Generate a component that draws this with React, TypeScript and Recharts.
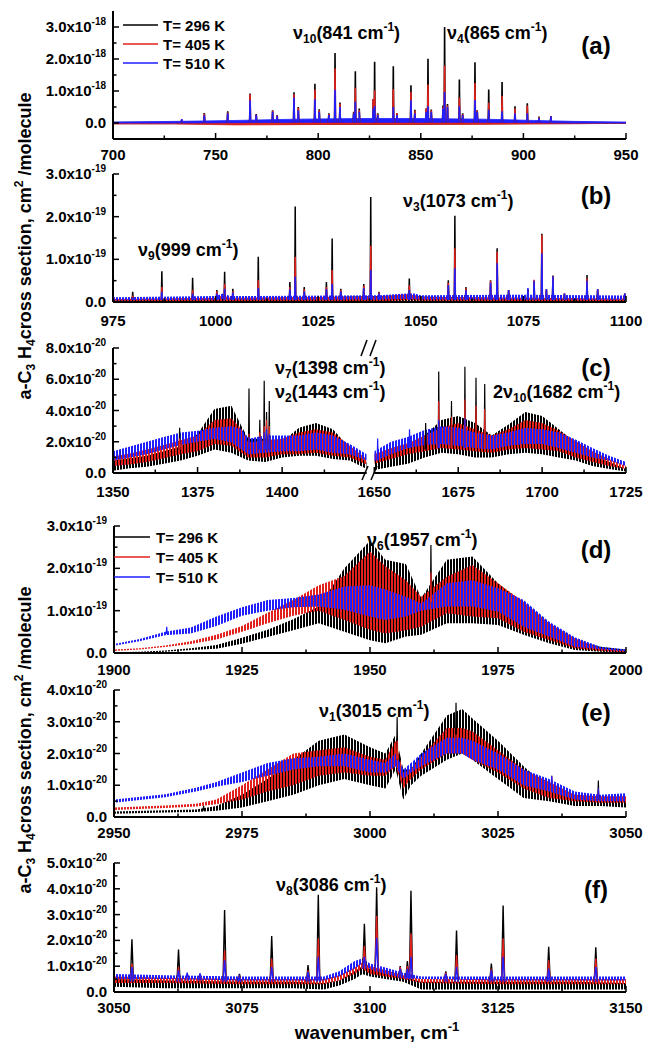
import React from "react";
import { Area, ComposedChart, Line, XAxis, YAxis } from "recharts";

const FONT = "'Liberation Sans', Arial, Helvetica, sans-serif";
const INK = "#000000";
const RED = "#e2211c";
const BLUE = "#1f1fff";

const temperatures = ["T= 296 K", "T= 405 K", "T= 510 K"];
const seriesColors = [INK, RED, BLUE];
const stripeFills = ["url(#stripe-k)", "url(#stripe-r)", "url(#stripe-b)"];

// bands: [x, 296K lo, 296K hi, 405K lo, 405K hi, 510K lo, 510K hi]
// peaks: [x, foot, 296K, 405K, 510K]

// (a) units of 1e-18
const aBands = [
  [700, -0.02, 0.02, -0.03, 0.01, 0.0, 0.03],
  [730, -0.02, 0.03, -0.03, 0.02, 0.0, 0.05],
  [760, -0.03, 0.04, -0.06, 0.03, 0.01, 0.08],
  [790, -0.04, 0.05, -0.05, 0.04, 0.02, 0.12],
  [820, -0.04, 0.06, -0.04, 0.05, 0.02, 0.14],
  [850, -0.04, 0.06, -0.04, 0.05, 0.02, 0.14],
  [880, -0.03, 0.05, -0.04, 0.04, 0.02, 0.12],
  [905, -0.02, 0.04, -0.03, 0.03, 0.01, 0.08],
  [925, -0.02, 0.03, -0.02, 0.02, 0.0, 0.05],
  [950, -0.01, 0.01, -0.01, 0.01, 0.0, 0.03],
];
const aPeaks = [
  [733.5, 0.02, 0.1, 0.1, 0.12],
  [744.5, 0.02, 0.31, 0.29, 0.24],
  [755.9, 0.02, 0.37, 0.33, 0.3],
  [766.8, 0.02, 0.92, 0.9, 0.71],
  [769.8, 0.02, 0.28, 0.26, 0.25],
  [777.8, 0.02, 0.4, 0.38, 0.35],
  [780, 0.02, 0.25, 0.24, 0.22],
  [788.2, 0.02, 0.96, 0.9, 0.8],
  [790.3, 0.02, 0.5, 0.47, 0.4],
  [798.4, 0.02, 1.23, 1.05, 0.74],
  [800.5, 0.02, 0.43, 0.4, 0.35],
  [805.2, 0.02, 0.3, 0.28, 0.25],
  [808.2, 0.02, 2.19, 1.7, 1.04],
  [810.6, 0.02, 0.64, 0.6, 0.5],
  [817.3, 0.02, 0.35, 0.33, 0.3],
  [818.1, 0.02, 1.62, 1.1, 0.66],
  [820, 0.02, 0.45, 0.4, 0.35],
  [826.8, 0.02, 0.75, 0.75, 0.45],
  [827.5, 0.02, 1.91, 1.02, 0.53],
  [829, 0.02, 0.3, 0.28, 0.25],
  [836.6, 0.02, 1.77, 1.06, 0.5],
  [838.4, 0.02, 0.3, 0.3, 0.25],
  [845.2, 0.02, 1.18, 0.97, 0.71],
  [847.1, 0.02, 0.41, 0.38, 0.3],
  [852.6, 0.02, 0.45, 0.45, 0.35],
  [853.5, 0.02, 2.01, 1.2, 0.52],
  [855.1, 0.02, 0.42, 0.4, 0.35],
  [860.8, 0.02, 0.55, 0.5, 0.45],
  [861.6, 0.02, 3.0, 1.8, 0.97],
  [863, 0.02, 0.59, 0.55, 0.5],
  [868.8, 0.02, 1.36, 0.8, 0.52],
  [870.4, 0.02, 0.3, 0.28, 0.25],
  [876.4, 0.02, 1.9, 1.25, 0.72],
  [877.5, 0.02, 0.4, 0.38, 0.35],
  [883.1, 0.02, 1.05, 0.63, 0.41],
  [889.6, 0.02, 1.28, 0.85, 0.37],
  [895.9, 0.02, 0.52, 0.45, 0.3],
  [901.9, 0.02, 0.62, 0.55, 0.3],
  [907.6, 0.02, 0.2, 0.18, 0.15],
  [913.4, 0.02, 0.22, 0.2, 0.2],
];

// (b) units of 1e-19
const bBands = [
  [975, 0.0, 0.06, 0.02, 0.07, 0.04, 0.11],
  [1000, 0.0, 0.08, 0.02, 0.1, 0.05, 0.14],
  [1001.8, 0.0, 0.12, 0.03, 0.16, 0.07, 0.2],
  [1003.5, 0.0, 0.08, 0.02, 0.1, 0.05, 0.14],
  [1040, 0.0, 0.14, 0.02, 0.13, 0.06, 0.16],
  [1046.5, 0.01, 0.16, 0.04, 0.18, 0.07, 0.2],
  [1048.5, 0.01, 0.15, 0.04, 0.16, 0.07, 0.2],
  [1050, 0.0, 0.13, 0.03, 0.12, 0.06, 0.16],
  [1075, 0.0, 0.08, 0.02, 0.1, 0.06, 0.17],
  [1100, 0.0, 0.06, 0.02, 0.08, 0.05, 0.15],
];
const bPeaks = [
  [979.8, 0.05, 0.24, 0.15, 0.1],
  [986.9, 0.05, 0.72, 0.35, 0.24],
  [994.4, 0.05, 0.57, 0.28, 0.2],
  [1000.3, 0.05, 0.28, 0.25, 0.2],
  [1002.2, 0.05, 0.71, 0.43, 0.31],
  [1004.2, 0.05, 0.31, 0.25, 0.22],
  [1010.4, 0.05, 1.06, 0.51, 0.33],
  [1018.1, 0.05, 0.47, 0.35, 0.3],
  [1019.4, 0.05, 2.24, 1.06, 0.59],
  [1021.6, 0.05, 0.35, 0.3, 0.25],
  [1027, 0.05, 0.47, 0.35, 0.3],
  [1028.4, 0.05, 1.49, 0.75, 0.43],
  [1030.5, 0.05, 0.31, 0.28, 0.25],
  [1036.1, 0.05, 0.42, 0.38, 0.33],
  [1037.8, 0.05, 2.46, 1.32, 0.75],
  [1039.8, 0.05, 0.24, 0.22, 0.2],
  [1047.2, 0.05, 0.55, 0.39, 0.28],
  [1056.7, 0.05, 0.51, 0.45, 0.4],
  [1058.3, 0.05, 2.02, 1.26, 0.79],
  [1061, 0.05, 0.35, 0.32, 0.28],
  [1067, 0.05, 0.51, 0.5, 0.45],
  [1068.6, 0.05, 1.26, 1.18, 0.91],
  [1071.4, 0.05, 0.28, 0.28, 0.28],
  [1076.1, 0.05, 0.3, 0.3, 0.33],
  [1077.6, 0.05, 0.5, 0.52, 0.5],
  [1079.5, 0.05, 1.6, 1.57, 1.14],
  [1080.6, 0.05, 0.3, 0.3, 0.3],
  [1082.2, 0.05, 0.62, 0.6, 0.6],
  [1085, 0.05, 0.2, 0.2, 0.2],
  [1090.5, 0.05, 0.63, 0.55, 0.5],
  [1093.1, 0.05, 0.3, 0.3, 0.3],
  [1099.7, 0.05, 0.2, 0.2, 0.2],
];

// (c) units of 1e-20, two pieces of a broken axis
const cBandsLeft = [
  [1350, 0.15, 0.8, 0.45, 1.05, 0.8, 1.4],
  [1355, 0.3, 0.95, 0.55, 1.25, 1.0, 1.7],
  [1360, 0.4, 1.1, 0.7, 1.5, 1.2, 2.0],
  [1365, 0.6, 1.4, 0.95, 1.8, 1.5, 2.3],
  [1370, 0.8, 1.7, 1.2, 2.1, 1.8, 2.6],
  [1375, 1.1, 2.5, 1.4, 2.4, 2.0, 2.7],
  [1380, 1.5, 4.1, 1.85, 3.4, 2.2, 2.9],
  [1385, 1.3, 4.3, 1.75, 3.5, 1.95, 3.0],
  [1388, 1.0, 3.0, 1.3, 2.8, 1.5, 2.8],
  [1390, 0.8, 2.2, 1.0, 1.95, 1.2, 2.2],
  [1395, 0.7, 2.2, 1.0, 2.1, 1.3, 2.4],
  [1400, 1.0, 2.0, 1.2, 2.2, 1.4, 2.4],
  [1405, 1.1, 2.9, 1.2, 2.6, 1.4, 2.4],
  [1410, 1.1, 3.2, 1.3, 2.8, 1.5, 2.6],
  [1415, 0.9, 2.8, 1.1, 2.6, 1.3, 2.4],
  [1420, 0.8, 1.6, 1.0, 1.75, 1.2, 1.85],
  [1425, 0.25, 0.7, 0.55, 0.9, 0.8, 1.2],
];
const cPeaksLeft = [
  [1352, 0.9, 1.45, null, 1.45],
  [1369.7, 1.5, 2.9, 2.2, null],
  [1390.2, 1.5, 5.4, 2.5, 2.3],
  [1393.4, 1.5, 3.4, 2.6, 2.3],
  [1394.7, 1.5, 5.9, 3.0, 2.6],
  [1395.4, 1.5, 3.9, 3.4, 2.8],
  [1396.2, 1.5, 4.6, 3.0, 2.5],
];
const cBandsRight = [
  [1650, 0.2, 1.0, 0.6, 1.2, 0.75, 1.4],
  [1655, 0.4, 1.3, 0.9, 1.6, 1.2, 2.0],
  [1660, 0.6, 1.6, 1.2, 1.9, 1.6, 2.3],
  [1665, 1.0, 2.4, 1.4, 2.4, 1.8, 2.75],
  [1670, 1.3, 3.4, 1.6, 2.9, 1.85, 3.0],
  [1675, 1.2, 3.65, 1.5, 3.2, 1.75, 2.9],
  [1680, 1.0, 3.2, 1.4, 2.8, 1.6, 2.6],
  [1685, 1.0, 2.4, 1.3, 2.4, 1.5, 2.4],
  [1690, 1.2, 3.1, 1.5, 2.8, 1.75, 2.6],
  [1695, 1.3, 3.9, 1.6, 3.4, 1.85, 2.9],
  [1700, 1.2, 3.65, 1.5, 3.2, 1.85, 2.8],
  [1705, 1.0, 2.8, 1.4, 2.7, 1.6, 2.6],
  [1710, 0.8, 1.95, 1.0, 2.05, 1.3, 2.15],
  [1715, 0.45, 1.2, 0.7, 1.4, 1.0, 1.6],
  [1720, 0.25, 0.7, 0.45, 0.9, 0.8, 1.1],
  [1725, 0.1, 0.25, 0.25, 0.45, 0.45, 0.7],
];
const cPeaksRight = [
  [1651, 0.8, null, null, 2.2],
  [1660.5, 1.6, null, null, 2.8],
  [1665.3, 1.5, 3.2, null, null],
  [1669.2, 1.6, 6.5, 4.6, 3.4],
  [1673, 1.6, 4.6, 3.6, null],
  [1677, 1.6, 6.8, 4.7, 3.5],
  [1680.3, 1.6, 6.1, 4.3, null],
  [1682.9, 1.6, 5.7, 4.1, null],
];

// (d) units of 1e-19
const dBands = [
  [1900, 0.0, 0.02, 0.05, 0.08, 0.17, 0.21],
  [1905, 0.01, 0.03, 0.08, 0.11, 0.28, 0.33],
  [1910, 0.03, 0.06, 0.14, 0.18, 0.42, 0.5],
  [1915, 0.07, 0.11, 0.21, 0.28, 0.46, 0.6],
  [1920, 0.1, 0.19, 0.32, 0.43, 0.64, 0.86],
  [1925, 0.22, 0.36, 0.5, 0.64, 0.88, 1.08],
  [1930, 0.38, 0.55, 0.7, 0.95, 1.0, 1.25],
  [1935, 0.54, 0.8, 0.88, 1.25, 1.08, 1.3],
  [1940, 0.7, 1.1, 1.0, 1.6, 1.1, 1.38],
  [1945, 0.5, 2.0, 0.78, 1.82, 1.02, 1.57],
  [1950, 0.3, 2.65, 0.55, 2.4, 0.86, 1.6],
  [1953, 0.23, 2.2, 0.46, 2.05, 0.78, 1.5],
  [1957, 0.39, 2.1, 0.54, 1.72, 0.86, 1.33],
  [1960, 0.43, 1.3, 0.62, 1.33, 1.0, 1.17],
  [1965, 0.7, 2.2, 0.94, 1.8, 1.1, 1.65],
  [1970, 0.7, 2.28, 0.86, 2.08, 1.1, 1.72],
  [1975, 0.66, 1.65, 0.82, 1.65, 0.98, 1.53],
  [1980, 0.43, 1.17, 0.5, 1.21, 0.62, 1.25],
  [1985, 0.23, 0.66, 0.31, 0.7, 0.39, 0.74],
  [1990, 0.07, 0.31, 0.11, 0.35, 0.15, 0.37],
  [1995, 0.03, 0.15, 0.05, 0.11, 0.09, 0.15],
  [2000, 0.0, 0.08, 0.02, 0.06, 0.04, 0.08],
];
const dPeaks = [
  [1910.3, 0.45, null, null, 0.62],
  [1961.9, 1.2, 2.55, 1.9, null],
];

// (e) units of 1e-20
const eBands = [
  [2950, 0.1, 0.17, 0.22, 0.3, 0.45, 0.55],
  [2960, 0.14, 0.21, 0.28, 0.36, 0.62, 0.72],
  [2966, 0.16, 0.24, 0.33, 0.42, 0.8, 0.92],
  [2970, 0.2, 0.35, 0.4, 0.55, 0.95, 1.1],
  [2975, 0.3, 0.7, 0.55, 1.0, 1.1, 1.4],
  [2980, 0.5, 1.2, 0.8, 1.5, 1.3, 1.7],
  [2985, 0.7, 1.8, 1.0, 2.0, 1.5, 1.85],
  [2990, 1.0, 2.4, 1.3, 2.1, 1.6, 1.9],
  [2995, 1.2, 2.6, 1.4, 2.2, 1.6, 2.0],
  [3000, 1.0, 2.2, 1.3, 1.9, 1.4, 1.8],
  [3003, 0.9, 2.0, 1.3, 1.8, 1.4, 1.7],
  [3005, 1.5, 2.6, 1.6, 2.4, 1.6, 2.0],
  [3006.5, 0.55, 1.5, 0.9, 1.4, 1.2, 1.5],
  [3008, 1.0, 1.5, 1.2, 1.5, 1.4, 1.7],
  [3010, 1.3, 2.0, 1.5, 1.9, 1.6, 2.0],
  [3015, 1.8, 3.2, 2.0, 2.8, 2.0, 2.5],
  [3018, 2.0, 3.4, 2.0, 2.8, 2.0, 2.5],
  [3020, 1.8, 3.1, 1.8, 2.7, 1.8, 2.4],
  [3025, 1.2, 2.4, 1.4, 2.1, 1.5, 2.0],
  [3030, 0.6, 1.6, 0.9, 1.5, 1.0, 1.5],
  [3035, 0.5, 0.9, 0.6, 1.1, 0.8, 1.2],
  [3040, 0.35, 0.7, 0.5, 0.7, 0.55, 0.8],
  [3045, 0.35, 0.6, 0.45, 0.65, 0.5, 0.7],
  [3050, 0.3, 0.6, 0.45, 0.65, 0.5, 0.75],
];
const ePeaks = [
  [2967.5, 0.2, 0.35, null, null],
  [3005.3, 1.8, 3.15, 2.4, null],
  [3016.8, 2.2, 3.6, 2.6, 2.5],
  [3035.5, 1.0, null, 1.3, 1.3],
  [3044.6, 0.55, 1.15, 0.9, 0.9],
];

// (f) units of 1e-20
const fBands = [
  [3050, 0.2, 0.5, 0.35, 0.6, 0.5, 0.7],
  [3060, 0.15, 0.45, 0.35, 0.55, 0.5, 0.65],
  [3075, 0.15, 0.4, 0.3, 0.5, 0.45, 0.6],
  [3085, 0.15, 0.4, 0.3, 0.5, 0.45, 0.6],
  [3091, 0.1, 0.35, 0.3, 0.5, 0.45, 0.6],
  [3094, 0.25, 0.45, 0.45, 0.65, 0.6, 0.8],
  [3097, 0.5, 0.8, 0.7, 0.95, 0.9, 1.2],
  [3098.5, 0.7, 1.0, 0.9, 1.15, 1.1, 1.3],
  [3100, 0.6, 0.9, 0.7, 1.0, 0.9, 1.1],
  [3103, 0.5, 0.8, 0.6, 0.85, 0.7, 0.95],
  [3106.5, 0.4, 0.6, 0.5, 0.65, 0.55, 0.75],
  [3110, 0.1, 0.4, 0.35, 0.5, 0.5, 0.6],
  [3125, 0.1, 0.4, 0.3, 0.5, 0.45, 0.6],
  [3140, 0.1, 0.4, 0.3, 0.5, 0.45, 0.6],
  [3150, 0.1, 0.35, 0.3, 0.5, 0.45, 0.6],
];
const fPeaks = [
  [3053.5, 0.4, 2.04, 1.1, 0.97],
  [3062.6, 0.4, 1.65, 0.97, 0.84],
  [3064.3, 0.45, null, 0.7, 0.75],
  [3066.8, 0.45, 0.7, 0.7, 0.72],
  [3071.6, 0.4, 3.18, 1.62, 1.23],
  [3074.5, 0.4, 0.7, 0.65, 0.6],
  [3080.8, 0.4, 2.17, 1.3, 0.97],
  [3087.9, 0.4, 1.04, 0.84, 0.78],
  [3089.9, 0.4, 3.77, 2.08, 1.36],
  [3098.9, 0.9, 2.64, 1.78, 1.36],
  [3101.3, 0.8, 4.06, 2.95, 2.1],
  [3105.9, 0.55, 1.0, 0.97, 0.9],
  [3107.3, 0.5, 1.2, 1.0, 0.9],
  [3108, 0.5, 3.92, 2.27, 1.36],
  [3114.8, 0.4, 0.8, 0.75, 0.7],
  [3116.9, 0.4, 2.38, 1.43, 0.97],
  [3123.7, 0.4, 1.1, 0.9, 0.85],
  [3126, 0.4, 3.35, 2.08, 1.36],
  [3134.9, 0.4, 1.75, 1.23, 0.91],
  [3144.1, 0.4, 1.73, 1.3, 0.97],
];

type Row = {
  x: number;
  bk?: number[];
  rd?: number[];
  bl?: number[];
  sk?: number;
  sr?: number;
  sb?: number;
};

function buildRows(bands: number[][], peaks: (number | null)[][], half: number): Row[] {
  const rows: Row[] = bands.map(([x, a, b, c, d, e, f]) => ({
    x,
    bk: [a, b],
    rd: [c, d],
    bl: [e, f],
  }));
  peaks.forEach(([px, foot, k, r, b]) => {
    const x = px as number;
    const f = foot as number;
    const feet = (h: number | null) => (h == null ? undefined : f);
    rows.push({ x: x - half, sk: feet(k), sr: feet(r), sb: feet(b) });
    rows.push({ x, sk: k ?? undefined, sr: r ?? undefined, sb: b ?? undefined });
    rows.push({ x: x + half, sk: feet(k), sr: feet(r), sb: feet(b) });
    rows.push({ x: x + half * 1.05 });
  });
  return rows.sort((p, q) => p.x - q.x);
}

const MAJOR = 6;
const MINOR = 3.5;
const tickStroke = { stroke: INK, strokeWidth: 1.5 };
const frame = { stroke: INK, strokeWidth: 2 };

const bottomTick = (majors: Set<number>, gap: number) => (p: any) => {
  const v = p.payload.value;
  const major = majors.has(v);
  return (
    <g>
      <line x1={p.x} x2={p.x} y1={p.y} y2={p.y - (major ? MAJOR : MINOR)} {...tickStroke} />
      {major && (
        <text x={p.x} y={p.y + gap} textAnchor="middle" fontFamily={FONT} fontWeight="bold" fontSize={15} fill={INK}>
          {v}
        </text>
      )}
    </g>
  );
};

const topTick = (majors: Set<number>) => (p: any) => {
  const major = majors.has(p.payload.value);
  return <line x1={p.x} x2={p.x} y1={p.y} y2={p.y + (major ? MAJOR : MINOR)} {...tickStroke} />;
};

const leftTick = (majors: Set<number>, exp: string) => (p: any) => {
  const v = p.payload.value;
  const major = majors.has(v);
  return (
    <g>
      <line x1={p.x} x2={p.x + (major ? MAJOR : MINOR)} y1={p.y} y2={p.y} {...tickStroke} />
      {major && (
        <text x={p.x - 7} y={p.y + 5} textAnchor="end" fontFamily={FONT} fontWeight="bold" fontSize={15} fill={INK}>
          {v === 0 ? (
            "0.0"
          ) : (
            <>
              {v.toFixed(1)}x10
              <tspan dy={-7} fontSize={10}>
                {exp}
              </tspan>
            </>
          )}
        </text>
      )}
    </g>
  );
};

const rightTick = (majors: Set<number>) => (p: any) => {
  const major = majors.has(p.payload.value);
  return <line x1={p.x} x2={p.x - (major ? MAJOR : MINOR)} y1={p.y} y2={p.y} {...tickStroke} />;
};

type PanelProps = {
  rows: Row[];
  top: number;
  bottom: number;
  left: number;
  right: number;
  xDomain: [number, number];
  xMajor: number[];
  xMinor: number[];
  yDomain: [number, number];
  yMajor: number[];
  yMinor: number[];
  exp: string;
  gap: number;
  fills?: string[];
  spikeWidth?: number;
  frameLeft?: boolean;
  frameRight?: boolean;
};

function Panel({
  rows, top, bottom, left, right, xDomain, xMajor, xMinor, yDomain, yMajor, yMinor, exp, gap,
  fills = stripeFills, spikeWidth = 1.2, frameLeft = true, frameRight = true,
}: PanelProps) {
  const xm = new Set(xMajor);
  const ym = new Set(yMajor);
  const xTicks = [...xMajor, ...xMinor].sort((a, b) => a - b);
  const yTicks = [...yMajor, ...yMinor].sort((a, b) => a - b);
  const keys = [
    ["bk", "sk"],
    ["rd", "sr"],
    ["bl", "sb"],
  ];
  const striped = fills !== seriesColors;
  return (
    <div style={{ position: "absolute", left: 0, top: top - 10 }}>
      <ComposedChart
        width={645}
        height={bottom - top + 42}
        data={rows}
        margin={{ top: 10, right: 645 - right, bottom: 0, left: 0 }}
      >
        <XAxis
          dataKey="x" type="number" domain={xDomain} allowDataOverflow ticks={xTicks} interval={0}
          height={32} tickSize={0} tickMargin={0} tickLine={false} axisLine={frame} tick={bottomTick(xm, gap)}
        />
        <XAxis
          xAxisId="top" orientation="top" dataKey="x" type="number" domain={xDomain} allowDataOverflow
          ticks={xTicks} interval={0} height={0} tickSize={0} tickMargin={0} tickLine={false} axisLine={frame}
          tick={topTick(xm)}
        />
        <YAxis
          type="number" domain={yDomain} allowDataOverflow ticks={yTicks} interval={0} width={left}
          tickSize={0} tickMargin={0} tickLine={false} axisLine={frameLeft ? frame : false}
          tick={frameLeft ? leftTick(ym, exp) : false}
        />
        {frameRight && (
          <YAxis
            yAxisId="right" orientation="right" type="number" domain={yDomain} allowDataOverflow ticks={yTicks}
            interval={0} width={0} tickSize={0} tickMargin={0} tickLine={false} axisLine={frame}
            tick={rightTick(ym)}
          />
        )}
        {keys.flatMap(([band, spike], i) => [
          <Area
            key={band} dataKey={band} type="linear" fill={fills[i]} fillOpacity={1}
            stroke={striped ? "none" : seriesColors[i]} strokeWidth={0.8} connectNulls dot={false}
            activeDot={false} isAnimationActive={false}
          />,
          <Line
            key={spike} dataKey={spike} type="linear" stroke={seriesColors[i]} strokeWidth={spikeWidth}
            dot={false} activeDot={false} isAnimationActive={false}
          />,
        ])}
      </ComposedChart>
    </div>
  );
}

function Anno({ x, y, pre, sub, mid }: { x: number; y: number; pre: string; sub: string; mid: string }) {
  return (
    <text x={x} y={y} fontFamily={FONT} fontWeight="bold" fontSize={18} fill={INK}>
      {pre}
      <tspan dy={4} fontSize={12}>{sub}</tspan>
      <tspan dy={-4}>{mid}</tspan>
      <tspan dy={-8} fontSize={12}>-1</tspan>
      <tspan dy={8}>)</tspan>
    </text>
  );
}

function YTitle({ cy }: { cy: number }) {
  return (
    <text
      transform={`translate(31,${cy}) rotate(-90)`} textAnchor="middle"
      fontFamily={FONT} fontWeight="bold" fontSize={18} fill={INK}
    >
      a-C<tspan dy={4} fontSize={12}>3</tspan>
      <tspan dy={-4}> H</tspan>
      <tspan dy={4} fontSize={12}>4</tspan>
      <tspan dy={-4}>cross section, cm</tspan>
      <tspan dy={-8} fontSize={12}>2</tspan>
      <tspan dy={8}> /molecule</tspan>
    </text>
  );
}

function Legend({ x1, x2, tx, rows }: { x1: number; x2: number; tx: number; rows: number[] }) {
  return (
    <g>
      {temperatures.map((t, i) => (
        <g key={t}>
          <line x1={x1} x2={x2} y1={rows[i]} y2={rows[i]} stroke={seriesColors[i]} strokeWidth={1.5} />
          <text x={tx} y={rows[i] + 5.5} fontFamily={FONT} fontWeight="bold" fontSize={15} fill={INK}>
            {t}
          </text>
        </g>
      ))}
    </g>
  );
}

const Letter = ({ y, t }: { y: number; t: string }) => (
  <text x={596} y={y + 8} textAnchor="middle" fontFamily={FONT} fontWeight="bold" fontSize={24} fill={INK}>
    {t}
  </text>
);

export default function App() {
  return (
    <div style={{ position: "absolute", left: 0, top: 0, width: 645, height: 1042, background: "#fff" }}>
      <Panel
        rows={buildRows(aBands, aPeaks, 0.2)} top={11} bottom={139} left={113} right={626}
        xDomain={[700, 950]} xMajor={[700, 750, 800, 850, 900, 950]} xMinor={[725, 775, 825, 875, 925]}
        yDomain={[-0.5, 3.5]} yMajor={[0, 1, 2, 3]} yMinor={[-0.5, 0.5, 1.5, 2.5]} exp="-18" gap={21}
        fills={seriesColors} spikeWidth={1.6}
      />
      <Panel
        rows={buildRows(bBands, bPeaks, 0.12)} top={174} bottom={302} left={113} right={626}
        xDomain={[975, 1100]} xMajor={[975, 1000, 1025, 1050, 1075, 1100]}
        xMinor={[987.5, 1012.5, 1037.5, 1062.5, 1087.5]}
        yDomain={[0, 3]} yMajor={[0, 1, 2, 3]} yMinor={[0.5, 1.5, 2.5]} exp="-19" gap={24} spikeWidth={1.5}
      />
      <Panel
        rows={buildRows(cBandsLeft, cPeaksLeft, 0.15)} top={348} bottom={473} left={113} right={366.7}
        xDomain={[1350, 1425]} xMajor={[1350, 1375, 1400]} xMinor={[1362.5, 1387.5, 1412.5]}
        yDomain={[0, 8]} yMajor={[0, 2, 4, 6, 8]} yMinor={[1, 3, 5, 7]} exp="-20" gap={24}
        frameRight={false}
      />
      <Panel
        rows={buildRows(cBandsRight, cPeaksRight, 0.15)} top={348} bottom={473} left={374.3} right={626}
        xDomain={[1650, 1725]} xMajor={[1650, 1675, 1700, 1725]} xMinor={[1662.5, 1687.5, 1712.5]}
        yDomain={[0, 8]} yMajor={[0, 2, 4, 6, 8]} yMinor={[1, 3, 5, 7]} exp="-20" gap={24}
        frameLeft={false}
      />
      <Panel
        rows={buildRows(dBands, dPeaks, 0.1)} top={526} bottom={653} left={114} right={626}
        xDomain={[1900, 2000]} xMajor={[1900, 1925, 1950, 1975, 2000]} xMinor={[1912.5, 1937.5, 1962.5, 1987.5]}
        yDomain={[0, 3]} yMajor={[0, 1, 2, 3]} yMinor={[0.5, 1.5, 2.5]} exp="-19" gap={22}
      />
      <Panel
        rows={buildRows(eBands, ePeaks, 0.1)} top={690} bottom={817} left={114} right={626}
        xDomain={[2950, 3050]} xMajor={[2950, 2975, 3000, 3025, 3050]} xMinor={[2962.5, 2987.5, 3012.5, 3037.5]}
        yDomain={[0, 4]} yMajor={[0, 1, 2, 3, 4]} yMinor={[0.5, 1.5, 2.5, 3.5]} exp="-20" gap={21}
      />
      <Panel
        rows={buildRows(fBands, fPeaks, 0.3)} top={863} bottom={992} left={114} right={626}
        xDomain={[3050, 3150]} xMajor={[3050, 3075, 3100, 3125, 3150]} xMinor={[3062.5, 3087.5, 3112.5, 3137.5]}
        yDomain={[0, 5]} yMajor={[0, 1, 2, 3, 4, 5]} yMinor={[0.5, 1.5, 2.5, 3.5, 4.5]} exp="-20" gap={21}
        spikeWidth={1.4}
      />
      <svg width={645} height={1042} style={{ position: "absolute", left: 0, top: 0, pointerEvents: "none" }}>
        <defs>
          <pattern id="stripe-k" width={3} height={10} patternUnits="userSpaceOnUse">
            <rect x={0} y={0} width={2} height={10} fill={INK} />
          </pattern>
          <pattern id="stripe-r" width={3} height={10} patternUnits="userSpaceOnUse">
            <rect x={1} y={0} width={2} height={10} fill={RED} />
          </pattern>
          <pattern id="stripe-b" width={3} height={10} patternUnits="userSpaceOnUse">
            <rect x={2} y={0} width={1} height={10} fill={BLUE} />
            <rect x={0} y={0} width={1} height={10} fill={BLUE} />
          </pattern>
        </defs>
        <YTitle cy={246} />
        <YTitle cy={740} />
        <text x={377} y={1039} textAnchor="middle" fontFamily={FONT} fontWeight="bold" fontSize={19} fill={INK}>
          wavenumber, cm<tspan dy={-8} fontSize={13}>-1</tspan>
        </text>
        <Legend x1={123} x2={158} tx={163} rows={[25, 44, 63]} />
        <Legend x1={114} x2={150} tx={156} rows={[537, 557, 577]} />
        <Letter y={46} t="(a)" />
        <Letter y={196} t="(b)" />
        <Letter y={368} t="(c)" />
        <Letter y={550} t="(d)" />
        <Letter y={713} t="(e)" />
        <Letter y={890} t="(f)" />
        <Anno x={293} y={39} pre="ν" sub="10" mid="(841 cm" />
        <Anno x={447} y={39} pre="ν" sub="4" mid="(865 cm" />
        <Anno x={403} y={207} pre="ν" sub="3" mid="(1073 cm" />
        <Anno x={138} y={256} pre="ν" sub="9" mid="(999 cm" />
        <Anno x={275} y={374} pre="ν" sub="7" mid="(1398 cm" />
        <Anno x={275} y={398} pre="ν" sub="2" mid="(1443 cm" />
        <Anno x={493} y={398} pre="2ν" sub="10" mid="(1682 cm" />
        <Anno x={367} y={546} pre="ν" sub="6" mid="(1957 cm" />
        <Anno x={319} y={717} pre="ν" sub="1" mid="(3015 cm" />
        <Anno x={276} y={891} pre="ν" sub="8" mid="(3086 cm" />
        <g stroke={INK} strokeWidth={1.5}>
          <line x1={361} y1={356} x2={367} y2={340} />
          <line x1={370} y1={356} x2={376} y2={340} />
          <line x1={362} y1={480} x2={368} y2={466} />
          <line x1={371} y1={480} x2={377} y2={466} />
        </g>
      </svg>
    </div>
  );
}
